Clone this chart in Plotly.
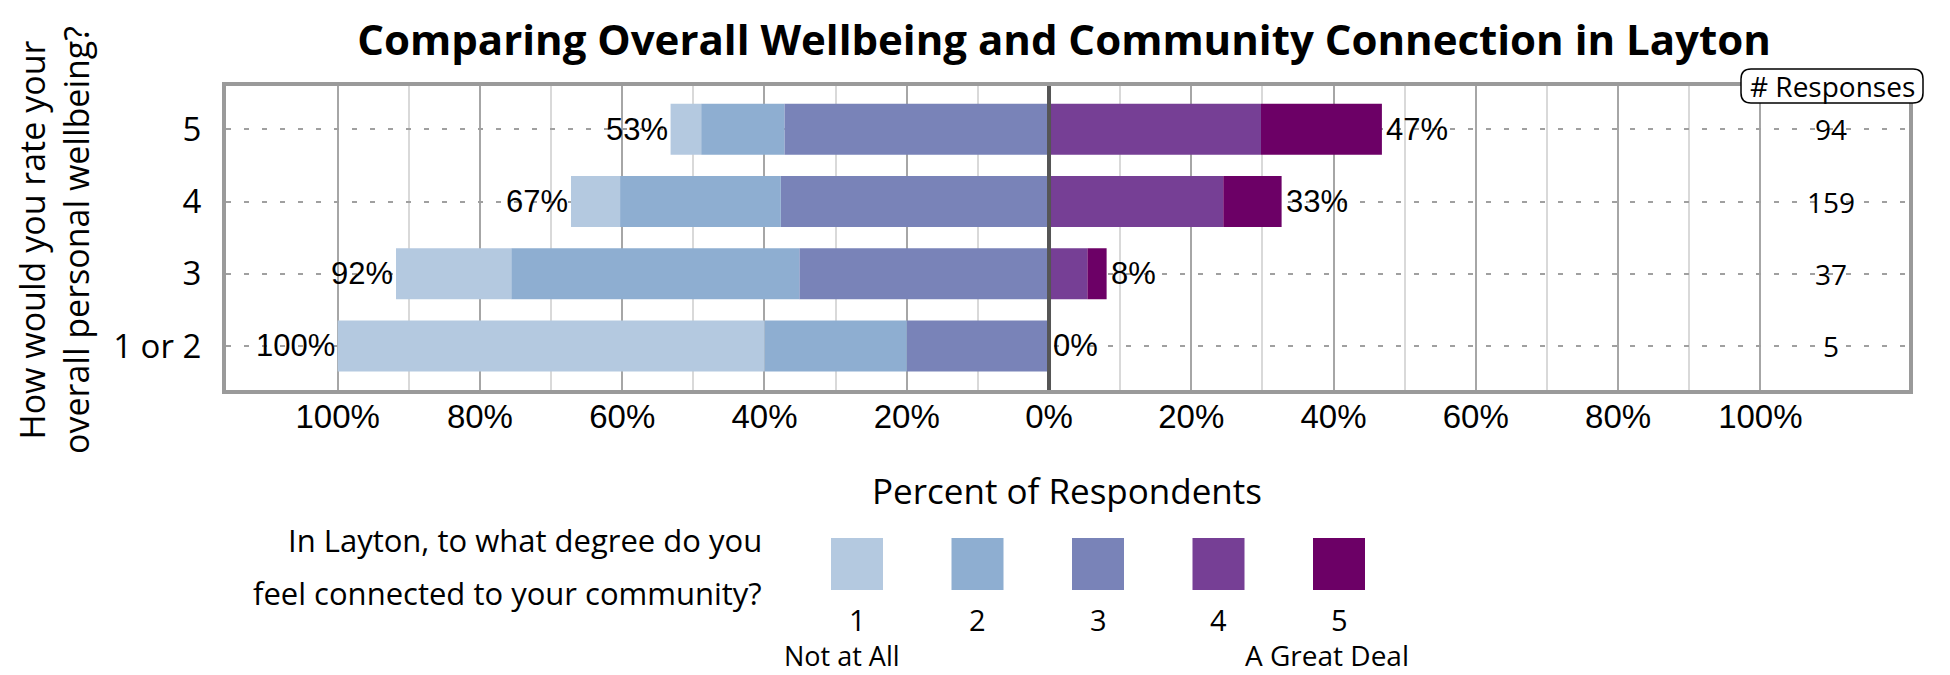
import plotly.graph_objects as go

# ---------------- data ----------------
categories = ["1 or 2", "3", "4", "5"]          # bottom -> top
responses = [5, 37, 159, 94]
segment_names = ["1", "2", "3", "4", "5"]
pct_1 = [60.0, 16.2, 6.9, 4.3]     # Not at All
pct_2 = [20.0, 40.5, 22.6, 11.7]
pct_3 = [20.0, 35.1, 37.7, 37.2]
pct_4 = [0.0, 5.4, 24.5, 29.8]
pct_5 = [0.0, 2.7, 8.2, 17.0]      # A Great Deal
colors = ["#b4c9e0", "#8eaed1", "#7983b8", "#763f95", "#6c0066"]
x_tick_vals = [-100, -80, -60, -40, -20, 0, 20, 40, 60, 80, 100]
x_tick_text = ["100%", "80%", "60%", "40%", "20%", "0%", "20%", "40%", "60%", "80%", "100%"]
x_minor_vals = [-90, -70, -50, -30, -10, 10, 30, 50, 70, 90]
title_text = "Comparing Overall Wellbeing and Community Connection in Layton"
y_title = "How would you rate your<br>overall personal wellbeing?"
x_title = "Percent of Respondents"
legend_q1 = "In Layton, to what degree do you"
legend_q2 = "feel connected to your community?"
legend_low = "Not at All"
legend_high = "A Great Deal"

# ---------------- geometry (pixels) ----------------
W, H = 1950, 675
L, R, T, B = 226, 1909, 86, 390
XMIN, XMAX = -115.7, 120.9


def px(x):
    return (x - L) / (R - L)


def py(y):
    return (B - y) / (B - T)


SANS = "Open Sans"
ARIAL = "Liberation Sans, Arial"

fig = go.Figure()
for vals, i in [(pct_3, 2), (pct_2, 1), (pct_1, 0)]:
    fig.add_trace(go.Bar(y=categories, x=[-v for v in vals], orientation="h",
                         marker=dict(color=colors[i], line=dict(width=0)),
                         name=segment_names[i], hoverinfo="skip"))
for vals, i in [(pct_4, 3), (pct_5, 4)]:
    fig.add_trace(go.Bar(y=categories, x=vals, orientation="h",
                         marker=dict(color=colors[i], line=dict(width=0)),
                         name=segment_names[i], hoverinfo="skip"))

annotations = []
for k, c in enumerate(categories):
    left = pct_1[k] + pct_2[k] + pct_3[k]
    right = pct_4[k] + pct_5[k]
    annotations.append(dict(x=-left, y=k, xref="x", yref="y", text=f"{round(left)}%",
                            showarrow=False, xanchor="right", xshift=-1,
                            font=dict(family=ARIAL, size=31, color="black")))
    annotations.append(dict(x=right, y=k, xref="x", yref="y", text=f"{round(right)}%",
                            showarrow=False, xanchor="left", xshift=2,
                            font=dict(family=ARIAL, size=31, color="black")))
    annotations.append(dict(x=110, y=k, xref="x", yref="y", text=str(responses[k]),
                            showarrow=False, xanchor="center",
                            font=dict(family=SANS, size=28, color="black")))

# # Responses header
annotations.append(dict(x=px(1832), y=py(86), xref="paper", yref="paper", text="# Responses",
                        showarrow=False, xanchor="center", yanchor="middle",
                        font=dict(family=SANS, size=28, color="black")))
# axis titles
annotations.append(dict(x=px(54), y=py(240), xref="paper", yref="paper", text=y_title,
                        showarrow=False, textangle=-90, xanchor="center", yanchor="middle",
                        font=dict(family=SANS, size=34, color="black")))
annotations.append(dict(x=px(1067), y=py(490), xref="paper", yref="paper", text=x_title,
                        showarrow=False, xanchor="center", yanchor="middle",
                        font=dict(family=SANS, size=35, color="black")))
# legend question
annotations.append(dict(x=px(764), y=py(540), xref="paper", yref="paper", text=legend_q1,
                        showarrow=False, xanchor="right", yanchor="middle",
                        font=dict(family=SANS, size=31, color="black")))
annotations.append(dict(x=px(764), y=py(593), xref="paper", yref="paper", text=legend_q2,
                        showarrow=False, xanchor="right", yanchor="middle",
                        font=dict(family=SANS, size=31, color="black")))

shapes = []
for i, name in enumerate(segment_names):
    bx = 831 + 120.5 * i
    shapes.append(dict(type="rect", xref="paper", yref="paper",
                       x0=px(bx), x1=px(bx + 52), y0=py(590), y1=py(538),
                       fillcolor=colors[i], line=dict(width=0)))
    annotations.append(dict(x=px(bx + 26), y=py(619), xref="paper", yref="paper", text=name,
                            showarrow=False, xanchor="center", yanchor="middle",
                            font=dict(family=SANS, size=29, color="black")))
annotations.append(dict(x=px(842), y=py(655), xref="paper", yref="paper", text=legend_low,
                        showarrow=False, xanchor="center", yanchor="middle",
                        font=dict(family=SANS, size=27, color="black")))
annotations.append(dict(x=px(1327), y=py(655), xref="paper", yref="paper", text=legend_high,
                        showarrow=False, xanchor="center", yanchor="middle",
                        font=dict(family=SANS, size=28, color="black")))

# zero line above bars
shapes.append(dict(type="line", xref="x", yref="paper", x0=0, x1=0, y0=0, y1=1,
                   line=dict(color="#555555", width=4), layer="above"))

# rounded box for "# Responses"
bx0, bx1, by0, by1, r = 1741, 1923, 69, 103, 10
path = (f"M {px(bx0 + r)},{py(by0)} L {px(bx1 - r)},{py(by0)} "
        f"Q {px(bx1)},{py(by0)} {px(bx1)},{py(by0 + r)} "
        f"L {px(bx1)},{py(by1 - r)} Q {px(bx1)},{py(by1)} {px(bx1 - r)},{py(by1)} "
        f"L {px(bx0 + r)},{py(by1)} Q {px(bx0)},{py(by1)} {px(bx0)},{py(by1 - r)} "
        f"L {px(bx0)},{py(by0 + r)} Q {px(bx0)},{py(by0)} {px(bx0 + r)},{py(by0)} Z")
shapes.append(dict(type="path", xref="paper", yref="paper", path=path,
                   fillcolor="white", line=dict(color="black", width=1.5), layer="above"))

fig.update_layout(
    width=W, height=H,
    margin=dict(l=L, r=W - R, t=T, b=H - B, pad=0),
    paper_bgcolor="white", plot_bgcolor="white",
    barmode="relative", bargap=0.295, showlegend=False,
    title=dict(text=f"<b>{title_text}</b>", x=1064 / W, y=1 - 40 / H,
               xanchor="center", yanchor="middle", xref="container", yref="container",
               font=dict(family=SANS, size=42, color="black")),
    xaxis=dict(range=[XMIN, XMAX], tickmode="array", tickvals=x_tick_vals, ticktext=x_tick_text,
               showgrid=True, gridcolor="#a6a6a6", gridwidth=2, zeroline=False,
               minor=dict(tickmode="array", tickvals=x_minor_vals, showgrid=True,
                          gridcolor="#d9d9d9", gridwidth=2),
               showline=True, mirror=True, linecolor="#9a9a9a", linewidth=4,
               ticks="outside", ticklen=0, ticklabelstandoff=-6,
               tickfont=dict(family=ARIAL, size=33, color="black"), fixedrange=True),
    yaxis=dict(type="category", categoryorder="array", categoryarray=categories,
               range=[-0.61, 3.6], showgrid=True, gridcolor="#a0a0a0", gridwidth=2,
               griddash="5px,13px",
               showline=True, mirror=True, linecolor="#9a9a9a", linewidth=4,
               ticks="outside", ticklen=0, ticklabelstandoff=14,
               tickfont=dict(family=SANS, size=33, color="black"), fixedrange=True),
    annotations=annotations, shapes=shapes,
)

fig.write_html("out.html", config={"displayModeBar": False},
               post_script="document.body.style.margin='0';")
